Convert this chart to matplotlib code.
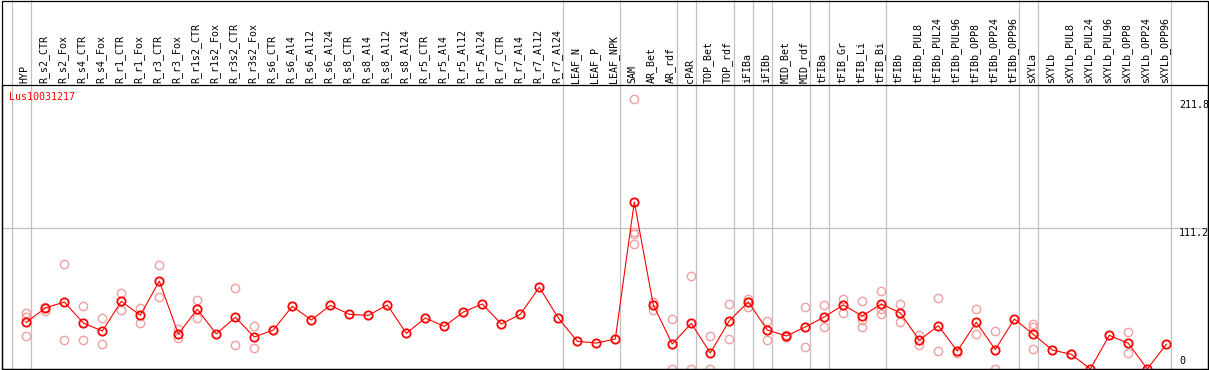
import matplotlib
matplotlib.use("Agg")
import matplotlib.pyplot as plt
from matplotlib.patches import Rectangle
from matplotlib.transforms import blended_transform_factory

gene = "Lus10031217"

samples = [
    "HYP", "R_s2_CTR", "R_s2_Fox", "R_s4_CTR", "R_s4_Fox", "R_r1_CTR", "R_r1_Fox",
    "R_r3_CTR", "R_r3_Fox", "R_r1s2_CTR", "R_r1s2_Fox", "R_r3s2_CTR", "R_r3s2_Fox",
    "R_s6_CTR", "R_s6_Al4", "R_s6_Al12", "R_s6_Al24", "R_s8_CTR", "R_s8_Al4",
    "R_s8_Al12", "R_s8_Al24", "R_r5_CTR", "R_r5_Al4", "R_r5_Al12", "R_r5_Al24",
    "R_r7_CTR", "R_r7_Al4", "R_r7_Al12", "R_r7_Al24", "LEAF_N", "LEAF_P", "LEAF_NPK",
    "SAM", "AR_Bet", "AR_rdf", "cPAR", "TOP_Bet", "TOP_rdf", "iFIBa", "iFIBb",
    "MID_Bet", "MID_rdf", "tFIBa", "tFIB_Gr", "tFIB_Li", "tFIB_Bi", "tFIBb",
    "tFIBb_PUL8", "tFIBb_PUL24", "tFIBb_PUL96", "tFIBb_OPP8", "tFIBb_OPP24",
    "tFIBb_OPP96", "sXYLa", "sXYLb", "sXYLb_PUL8", "sXYLb_PUL24", "sXYLb_PUL96",
    "sXYLb_OPP8", "sXYLb_OPP24", "sXYLb_OPP96",
]

means = [
    36.9, 48.2, 52.9, 36.4, 30.0, 53.5, 42.4, 69.5, 27.7, 47.2, 27.7, 40.9, 25.3,
    30.8, 49.6, 38.7, 50.3, 43.2, 42.4, 50.6, 28.2, 40.3, 33.7, 45.0, 51.4,
    35.6, 43.2, 64.6, 40.3, 21.9, 20.5, 23.7,
    132.0, 50.6, 19.8, 36.1, 12.6, 38.2, 53.0, 30.8, 26.1, 33.2, 41.1, 50.6,
    41.9, 51.4, 44.3, 22.7, 34.2, 14.2, 36.9, 15.3, 39.5, 27.4, 15.0, 11.6,
    0.0, 26.6, 20.3, 0.0, 19.5,
]

replicates = [
    [44.0, 41.1, 25.8], [49.0, 46.1], [83.0, 22.9], [49.6, 22.9], [40.3, 19.5],
    [60.1, 46.4], [48.2, 36.1], [82.0, 56.7], [31.4, 24.7], [54.5, 40.5], [],
    [63.8, 18.7], [33.7, 16.6],
    [], [], [], [], [], [], [], [], [], [], [], [], [], [], [], [], [], [], [],
    [213.0, 108.5, 106.5, 98.8], [53.2, 46.6], [39.3, 0.0], [73.5, 0.0],
    [26.1, 0.0], [51.4, 23.7], [55.6, 49.2], [37.9, 22.7], [26.9, 25.1],
    [48.8, 17.4], [50.3, 33.2], [55.6, 44.3], [53.5, 38.5, 33.2],
    [61.6, 47.2, 43.2], [51.4, 37.0], [27.1, 19.0], [55.9, 14.0], [12.4],
    [47.4, 27.4], [29.8, 0.0], [], [35.3, 33.4, 15.8], [], [12.0], [], [],
    [29.2, 12.4], [], [],
]

# index of the last sample in each group (-1 = left edge)
group_ends = [-1, 0, 28, 31, 34, 35, 37, 38, 39, 41, 42, 45, 52, 53, 60]

y_labels = [211.8, 111.2, 0]

W, H = 1209, 370
fig = plt.figure(figsize=(W / 100, H / 100), dpi=100)
ax = fig.add_axes([1.5 / W, 1 / H, 1206 / W, 284 / H])

n = len(samples)
x = list(range(n))
ax.set_xlim((1.5 - 26.3) / 19, (1207.5 - 26.3) / 19)
ax.set_ylim(0, 284 / 1.2653)
ax.set_xticks([])
ax.set_yticks([])
for s in ax.spines.values():
    s.set_linewidth(0.9)
    s.set_color("black")

font = dict(family="DejaVu Sans Mono", size=7.2)
grey = "#c0c0c0"

ax.axhline(111.2, color=grey, lw=0.9, zorder=1)
for g in group_ends:
    ax.axvline(g + 0.226, ymin=0, ymax=1 + 85 / 284, color=grey, lw=0.9,
               clip_on=False, zorder=1)

# replicates
for i, reps in enumerate(replicates):
    if reps:
        ax.plot([i] * len(reps), reps, linestyle="none", marker="o", ms=6,
                mfc="none", mec="#f0a0a0", mew=1.0, zorder=2)

# means
ax.plot(x, means, color="#ff0000", lw=0.8, marker="o", ms=6, mfc="none",
        mec="#ff0000", mew=1.3, zorder=3)

trans = blended_transform_factory(ax.transData, ax.transAxes)
for i, name in enumerate(samples):
    ax.text(i - 0.08, 1 + 2 / 284, name, rotation=90, ha="center", va="bottom",
            transform=trans, clip_on=False, **font)

xl = n - 1 + 0.67
ax.text(xl, y_labels[0] + 1, "%.1f" % y_labels[0], ha="left", va="top", **font)
ax.text(xl, y_labels[1], "%.1f" % y_labels[1], ha="left", va="top", **font)
ax.text(xl, y_labels[2] + 2, "%d" % y_labels[2], ha="left", va="bottom", **font)

fig.text(9.3 / W, 1 - 97 / H, gene, color="#ff0000", ha="left", va="center", **font)

# outer frame around header and plot
fig.patches.append(Rectangle((1.5 / W, 1 / H), 1206 / W, (H - 1.5) / H,
                             transform=fig.transFigure, fill=False,
                             edgecolor="black", lw=0.9))

fig.savefig("out.png", dpi=100)
